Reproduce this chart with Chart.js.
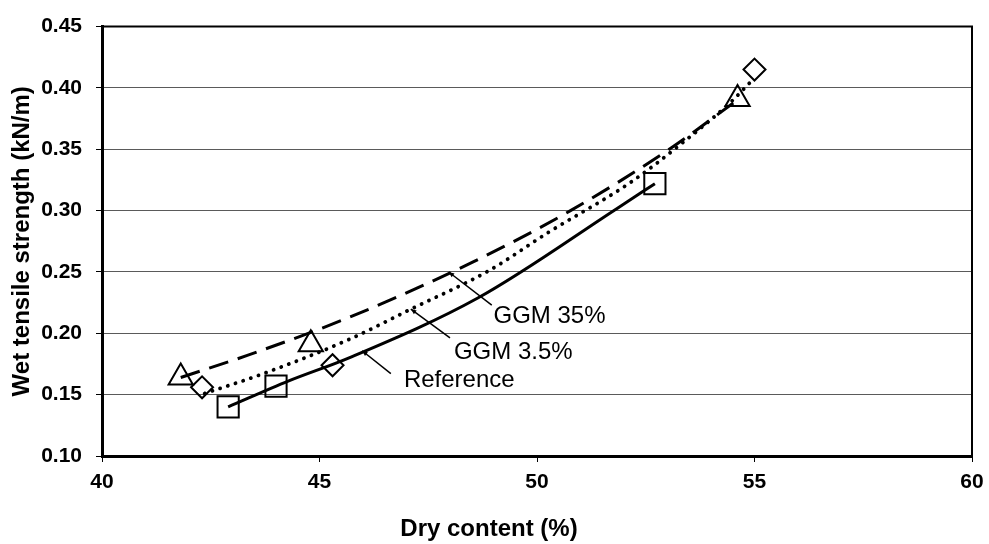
<!DOCTYPE html>
<html>
<head>
<meta charset="utf-8">
<script src="https://cdn.jsdelivr.net/npm/chart.js@4.4.1/dist/chart.umd.min.js"></script>
<style>
  html, body { margin: 0; padding: 0; background: #fff; }
  #wrap { width: 989px; height: 544px; }
</style>
</head>
<body>
<div id="wrap"><canvas id="chart"></canvas></div>
<script>
/* measured points (dry content %, wet tensile kN/m) */
const refX = [42.90, 44.00, 52.71];
const refY = [0.140, 0.157, 0.322];
const g35X = [41.81, 44.80, 54.61];
const g35Y = [0.164, 0.191, 0.391];
const g3X  = [42.30, 45.30, 55.00];
const g3Y  = [0.156, 0.174, 0.415];

/* trend lines */
const refTrendX = [42.90, 44.28, 45.68, 48.65, 51.85, 52.71];
const refTrendY = [0.140, 0.161, 0.180, 0.229, 0.302, 0.322];
const g35TrendX = [41.81, 43.34, 45.68, 48.52, 50.77, 53.04, 54.60];
const g35TrendY = [0.164, 0.182, 0.213, 0.258, 0.300, 0.350, 0.390];
const g3TrendX  = [42.36, 43.62, 45.68, 47.06, 48.89, 50.25, 52.15, 53.30, 54.44, 54.94];
const g3TrendY  = [0.151, 0.166, 0.195, 0.219, 0.251, 0.282, 0.323, 0.354, 0.388, 0.406];

const xTicks = [40, 45, 50, 55, 60];
const yTicks = [0.10, 0.15, 0.20, 0.25, 0.30, 0.35, 0.40, 0.45];

const pts = (xs, ys) => xs.map((v, i) => ({ x: v, y: ys[i] }));

/* callout labels: tip on the curve, tail near the text */
const callouts = [
  { text: 'GGM 35%',   tip: [47.97, 0.2500], tail: [48.96, 0.2230], at: [49.00, 0.2085] },
  { text: 'GGM 3.5%',  tip: [47.10, 0.2198], tail: [48.00, 0.1963], at: [48.09, 0.1793] },
  { text: 'Reference', tip: [45.98, 0.1858], tail: [46.64, 0.1672], at: [46.94, 0.1559] },
];

const calloutPlugin = {
  id: 'callouts',
  afterDatasetsDraw(chart) {
    const { ctx, chartArea: a, scales: { x, y } } = chart;
    ctx.save();
    ctx.strokeStyle = '#000';
    ctx.fillStyle = '#000';
    callouts.forEach(c => {
      const x0 = x.getPixelForValue(c.tip[0]),  y0 = y.getPixelForValue(c.tip[1]);
      const x1 = x.getPixelForValue(c.tail[0]), y1 = y.getPixelForValue(c.tail[1]);
      ctx.lineWidth = 1.5;
      ctx.beginPath(); ctx.moveTo(x0, y0); ctx.lineTo(x1, y1); ctx.stroke();
      const ang = Math.atan2(y0 - y1, x0 - x1);
      ctx.beginPath();
      ctx.moveTo(x0, y0);
      ctx.lineTo(x0 - 6 * Math.cos(ang - 0.4), y0 - 6 * Math.sin(ang - 0.4));
      ctx.lineTo(x0 - 6 * Math.cos(ang + 0.4), y0 - 6 * Math.sin(ang + 0.4));
      ctx.closePath(); ctx.fill();
      ctx.font = '24px "Liberation Sans", Arial, sans-serif';
      ctx.textAlign = 'left';
      ctx.textBaseline = 'alphabetic';
      ctx.fillText(c.text, x.getPixelForValue(c.at[0]), y.getPixelForValue(c.at[1]));
    });
    // top and right edge of the plot frame
    ctx.lineWidth = 2;
    ctx.beginPath();
    ctx.moveTo(a.left, a.top); ctx.lineTo(a.right, a.top); ctx.lineTo(a.right, a.bottom);
    ctx.stroke();
    ctx.restore();
  }
};

const marker = (label, data, style, radius) => ({
  label, data, showLine: false,
  pointStyle: style, pointRadius: radius, pointHoverRadius: radius,
  pointBorderColor: '#000', pointBackgroundColor: 'rgba(0,0,0,0)', pointBorderWidth: 2,
});
const trend = (label, data, dash, width) => ({
  label, data, showLine: true, pointRadius: 0,
  borderColor: '#000', borderWidth: width, borderDash: dash,
  borderCapStyle: dash.length && dash[0] < 1 ? 'round' : 'butt',
  cubicInterpolationMode: 'monotone', fill: false,
});

const tickFont = { family: '"Liberation Sans", Arial, sans-serif', size: 21, weight: 'bold' };

new Chart(document.getElementById('chart'), {
  type: 'scatter',
  data: {
    datasets: [
      trend('Reference trend', pts(refTrendX, refTrendY), [], 3),
      trend('GGM 35% trend', pts(g35TrendX, g35TrendY), [20, 10], 3),
      trend('GGM 3.5% trend', pts(g3TrendX, g3TrendY), [0.1, 8], 3.8),
      marker('Reference', pts(refX, refY), 'rect', 15),
      marker('GGM 35%', pts(g35X, g35Y), 'triangle', 14),
      marker('GGM 3.5%', pts(g3X, g3Y), 'rectRot', 11),
    ]
  },
  options: {
    responsive: true,
    maintainAspectRatio: false,
    animation: false,
    layout: { padding: { top: 23.5, right: 11, left: 0, bottom: 0 } },
    plugins: {
      legend: { display: false },
      tooltip: { enabled: false },
      title: {
        display: true, position: 'bottom', text: 'Dry content (%)', color: '#000',
        font: { family: '"Liberation Sans", Arial, sans-serif', size: 24, weight: 'bold' },
        padding: { top: 0, bottom: 0 },
      },
    },
    scales: {
      x: {
        type: 'linear', min: 40, max: 60,
        afterFit: s => { s.height = 59.2; s.paddingRight = 0; s.paddingLeft = 0; },
        afterBuildTicks: s => { s.ticks = xTicks.map(v => ({ value: v })); },
        grid: { drawOnChartArea: false, drawTicks: true, tickLength: 6, tickColor: '#000' },
        border: { display: true, color: '#000', width: 3 },
        ticks: { color: '#000', font: tickFont, padding: 8, maxRotation: 0 },
      },
      y: {
        type: 'linear', min: 0.10, max: 0.45,
        afterFit: s => { s.width = 102; },
        afterBuildTicks: s => { s.ticks = yTicks.map(v => ({ value: v })); },
        grid: { color: '#5a5a5a', lineWidth: 1, drawTicks: true, tickLength: 6, tickColor: '#000' },
        border: { display: true, color: '#000', width: 3 },
        ticks: { color: '#000', font: tickFont, padding: 14, callback: v => v.toFixed(2) },
        title: {
          display: true, text: 'Wet tensile strength (kN/m)', color: '#000',
          font: { family: '"Liberation Sans", Arial, sans-serif', size: 24, weight: 'bold' },
          padding: { top: 8, bottom: 0 },
        },
      },
    },
  },
  plugins: [calloutPlugin],
});
</script>
</body>
</html>
